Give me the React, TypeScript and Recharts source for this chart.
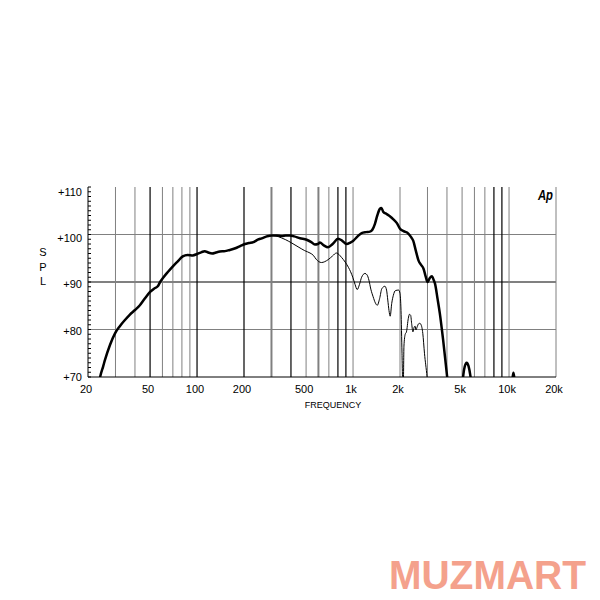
import React from 'react';
import { LineChart, Line, XAxis, YAxis, ReferenceLine, Customized } from 'recharts';

const onAxisFreq = [22, 24, 25, 25.7, 27.7, 29.8, 32, 34.5, 37, 40, 43, 46, 50, 53, 56, 58, 61, 65, 70, 75, 81, 87, 94, 100, 107, 112, 118, 125, 132, 140, 151, 160, 176, 190, 203, 215, 230, 245, 260, 280, 300, 325, 350, 370, 393, 420, 457, 504, 540, 569, 595, 613, 650, 692, 740, 803, 850, 909, 960, 1004, 1070, 1135, 1210, 1283, 1330, 1380, 1430, 1486, 1520, 1560, 1641, 1730, 1813, 1910, 2000, 2110, 2260, 2350, 2430, 2530, 2630, 2730, 2830, 2920, 3000, 3100, 3200, 3300, 3350, 3480, 3600, 3780, 4010, 4300, 4800, 5000, 5100, 5200, 5350, 5500, 5650, 5800, 6500, 9500, 10500, 10670, 10850, 12000, 20000];
const onAxisSpl = [62, 70.2, 72.2, 73.6, 76.8, 79.2, 80.7, 82.0, 83.1, 84.1, 85.1, 86.4, 87.9, 88.6, 89.1, 90.0, 91.0, 92.1, 93.3, 94.3, 95.4, 95.7, 95.6, 95.9, 96.3, 96.5, 96.2, 96.0, 96.2, 96.4, 96.5, 96.7, 97.1, 97.6, 98.0, 98.2, 98.4, 98.9, 99.2, 99.6, 99.8, 99.8, 99.7, 99.8, 99.8, 99.6, 99.2, 98.9, 98.4, 97.9, 98.0, 98.3, 97.7, 97.3, 98.0, 99.1, 98.7, 98.0, 98.3, 98.7, 99.6, 100.3, 100.5, 100.6, 101.0, 102.2, 104.0, 105.4, 105.6, 104.8, 104.3, 103.8, 103.2, 102.4, 101.2, 100.7, 100.2, 99.5, 98.7, 96.5, 94.5, 93.6, 92.8, 91.2, 90.0, 90.8, 91.2, 90.3, 89.7, 86.5, 83.4, 77.8, 70.1, 62, 60, 67.5, 70.6, 72.2, 73.0, 72.3, 70.3, 67, 60, 60, 69.4, 70.9, 69.4, 60, 60];

const offAxisFreq = [22, 24, 25, 25.7, 27.7, 29.8, 32, 34.5, 37, 40, 43, 46, 50, 53, 56, 58, 61, 65, 70, 75, 81, 87, 94, 100, 107, 112, 118, 125, 132, 140, 151, 160, 176, 190, 203, 215, 230, 245, 260, 280, 300, 320, 347, 370, 405, 450, 490, 530, 557, 580, 627, 692, 740, 782, 843, 890, 934, 996, 1030, 1063, 1100, 1135, 1192, 1230, 1264, 1300, 1345, 1390, 1430, 1480, 1530, 1600, 1640, 1670, 1700, 1730, 1770, 1813, 1870, 1960, 2000, 2030, 2060, 2085, 2100, 2120, 2160, 2200, 2260, 2300, 2340, 2380, 2420, 2460, 2500, 2530, 2580, 2630, 2680, 2730, 2800, 2870, 2980, 3100, 20000];
const offAxisSpl = [62, 70.2, 72.2, 73.6, 76.8, 79.2, 80.7, 82.0, 83.1, 84.1, 85.1, 86.4, 87.9, 88.6, 89.1, 90.0, 91.0, 92.1, 93.3, 94.3, 95.4, 95.7, 95.6, 95.9, 96.3, 96.5, 96.2, 96.0, 96.2, 96.4, 96.5, 96.7, 97.1, 97.6, 98.0, 98.2, 98.4, 98.9, 99.2, 99.6, 99.8, 99.7, 99.3, 98.9, 98.2, 97.3, 96.6, 96.1, 95.6, 94.8, 94.1, 94.7, 95.5, 96.1, 95.2, 94.2, 93.1, 91.0, 89.5, 88.4, 89.5, 91.0, 91.8, 91.5, 90.4, 88.5, 86.9, 85.6, 85.1, 86.5, 88.6, 89.1, 88.3, 86.2, 84.0, 82.8, 85.5, 87.2, 88.2, 88.3, 87.6, 84, 75, 68, 68, 76.5, 79, 79.5, 82.3, 83.2, 83.0, 81, 79.5, 80.4, 80.7, 79.9, 80.6, 81.2, 81.3, 81.0, 79.2, 75.0, 70, 62, 60];

const xTicks = [20, 50, 100, 200, 500, 1000, 2000, 5000, 10000, 20000];
const yTicks = Array.from({ length: 41 }, (_, i) => 70 + i);
const gridBlack = [50, 100, 200, 400, 800, 900, 8000, 9000];
const gridGray = [30, 40, 60, 70, 80, 90, 500, 700, 1000, 2000, 3000, 4000, 5000, 6000, 7000, 10000, 20000];
const gridGrayThick = [300, 600];
const hGrid = [80, 100];
const hGridThick = [90];

const onAxis = onAxisFreq.map((f, i) => ({ f, v: onAxisSpl[i] }));
const offAxis = offAxisFreq.map((f, i) => ({ f, v: offAxisSpl[i] }));

const fmtX = (v: number) => (v >= 1000 ? `${v / 1000}k` : `${v}`);

const YTick = (props: any) => {
  const { x, y, payload } = props;
  const v = payload.value as number;
  const major = v % 10 === 0;
  const off = 1 + (v - 70) / 8;
  return (
    <g>
      <line x1={x} x2={x + 3} y1={y} y2={y} stroke="#000" strokeWidth={1} />
      {major && (
        <text x={x - 6} y={y + off} textAnchor="end" dominantBaseline="middle" fontSize={11} fill="#000">
          {`+${v}`}
        </text>
      )}
    </g>
  );
};

const Overlay = () => (
  <g>
    <text x={43} y={256} textAnchor="middle" fontSize={11} fill="#000">S</text>
    <text x={43} y={271} textAnchor="middle" fontSize={11} fill="#000">P</text>
    <text x={43} y={285} textAnchor="middle" fontSize={11} fill="#000">L</text>
    <text x={333} y={408} textAnchor="middle" fontSize={9} fill="#000">FREQUENCY</text>
    <text x={538} y={200} fontSize={15} fontWeight="bold" fontStyle="italic" fill="#000" textLength={15} lengthAdjust="spacingAndGlyphs">Ap</text>
    <text x={389} y={589} fontSize={40} fontWeight="bold" fill="#F4A18C" textLength={197} lengthAdjust="spacingAndGlyphs">MUZMART</text>
  </g>
);

export default function App() {
  return (
    <div style={{ position: 'absolute', left: 0, top: 0, width: 600, height: 600, background: '#fff' }}>
      <LineChart
        width={600}
        height={600}
        margin={{ top: 187, right: 44, bottom: 193, left: 48 }}
        style={{ fontFamily: '"Liberation Sans", Arial, sans-serif' }}
      >
        <XAxis
          dataKey="f"
          type="number"
          scale="log"
          domain={[20, 20000]}
          allowDataOverflow
          ticks={xTicks}
          interval={0}
          tickFormatter={fmtX}
          tickLine={false}
          tickSize={0}
          tickMargin={8}
          axisLine={{ stroke: '#000', strokeWidth: 1 }}
          tick={{ fontSize: 11, fill: '#000', dx: -2 }}
          height={30}
        />
        <YAxis
          type="number"
          domain={[70, 110]}
          allowDataOverflow
          ticks={yTicks}
          interval={0}
          tickLine={false}
          tickSize={0}
          tickMargin={0}
          axisLine={{ stroke: '#000', strokeWidth: 1 }}
          tick={<YTick />}
          width={40}
        />
        {hGrid.map((v) => (
          <ReferenceLine key={`h${v}`} y={v} stroke="#808080" strokeWidth={1} />
        ))}
        {hGridThick.map((v) => (
          <ReferenceLine key={`ht${v}`} y={v} stroke="#808080" strokeWidth={2} />
        ))}
        {gridGray.map((v) => (
          <ReferenceLine key={`g${v}`} x={v} stroke="#808080" strokeWidth={1} />
        ))}
        {gridGrayThick.map((v) => (
          <ReferenceLine key={`gt${v}`} x={v} stroke="#808080" strokeWidth={2} />
        ))}
        {gridBlack.map((v) => (
          <ReferenceLine key={`b${v}`} x={v} stroke="#000" strokeWidth={1.2} />
        ))}
        <Line data={offAxis} dataKey="v" type="monotone" stroke="#000" strokeWidth={1} dot={false} isAnimationActive={false} />
        <Line data={onAxis} dataKey="v" type="monotone" stroke="#000" strokeWidth={2.5} dot={false} isAnimationActive={false} />
        <Customized component={<Overlay />} />
      </LineChart>
    </div>
  );
}
